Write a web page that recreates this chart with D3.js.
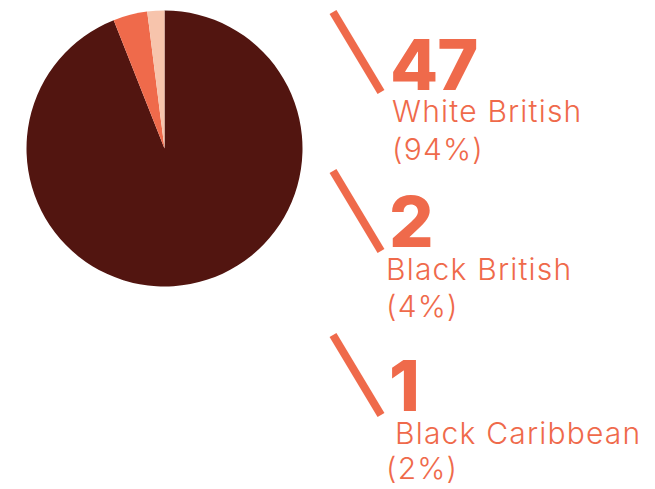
<!DOCTYPE html>
<html><head><meta charset="utf-8">
<script src="https://cdn.jsdelivr.net/npm/d3@7"></script>
<style>html,body{margin:0;padding:0;background:#fff;}svg{display:block;}</style>
</head><body>
<svg id="c" width="655" height="489"></svg>
<script>
const categories = ["White British", "Black British", "Black Caribbean"];
const counts = [47, 2, 1];
const percents = ["94%", "4%", "2%"];
const colors = ["#521510", "#EF6A4B", "#F7C4AC"];

const svg = d3.select("#c");
const cx = 164.5, cy = 148.5, r = 138;

const pie = d3.pie().sort(null).value(d => d)(counts);
const arc = d3.arc().innerRadius(0).outerRadius(r);
svg.append("g").attr("transform", `translate(${cx},${cy})`)
  .selectAll("path").data(pie).join("path")
  .attr("d", arc).attr("fill", (d, i) => colors[i]);

const accent = "#EF6A4B";
const blocks = [
  {slashY: 12, numX: 390, numY: 90, labX: 392, labY: 122, pctX: 392, pctY: 160},
  {slashY: 171, numX: 389, numY: 247, labX: 386, labY: 280, pctX: 386, pctY: 317},
  {slashY: 335, numX: 389, numY: 411, labX: 395, labY: 444, pctX: 386, pctY: 479}
];
const g = svg.append("g");
categories.forEach((c, i) => {
  const b = blocks[i];
  g.append("line").attr("x1", 333).attr("y1", b.slashY)
    .attr("x2", 381).attr("y2", b.slashY + 80)
    .attr("stroke", accent).attr("stroke-width", 8);
  g.append("text").attr("x", b.numX).attr("y", b.numY)
    .attr("font-family", "Inter, 'Open Sans', sans-serif").attr("font-weight", 800)
    .attr("font-size", 70).attr("fill", accent).attr("letter-spacing", -1).text(counts[i]);
  g.append("text").attr("x", b.labX).attr("y", b.labY)
    .attr("font-family", "Inter, 'Open Sans', sans-serif").attr("font-weight", 300)
    .attr("font-size", 30).attr("letter-spacing", 1.2).attr("fill", accent).text(c);
  g.append("text").attr("x", b.pctX).attr("y", b.pctY)
    .attr("font-family", "Inter, 'Open Sans', sans-serif").attr("font-weight", 300)
    .attr("font-size", 30).attr("letter-spacing", 1.2).attr("fill", accent).text("(" + percents[i] + ")");
});
</script>
</body></html>
